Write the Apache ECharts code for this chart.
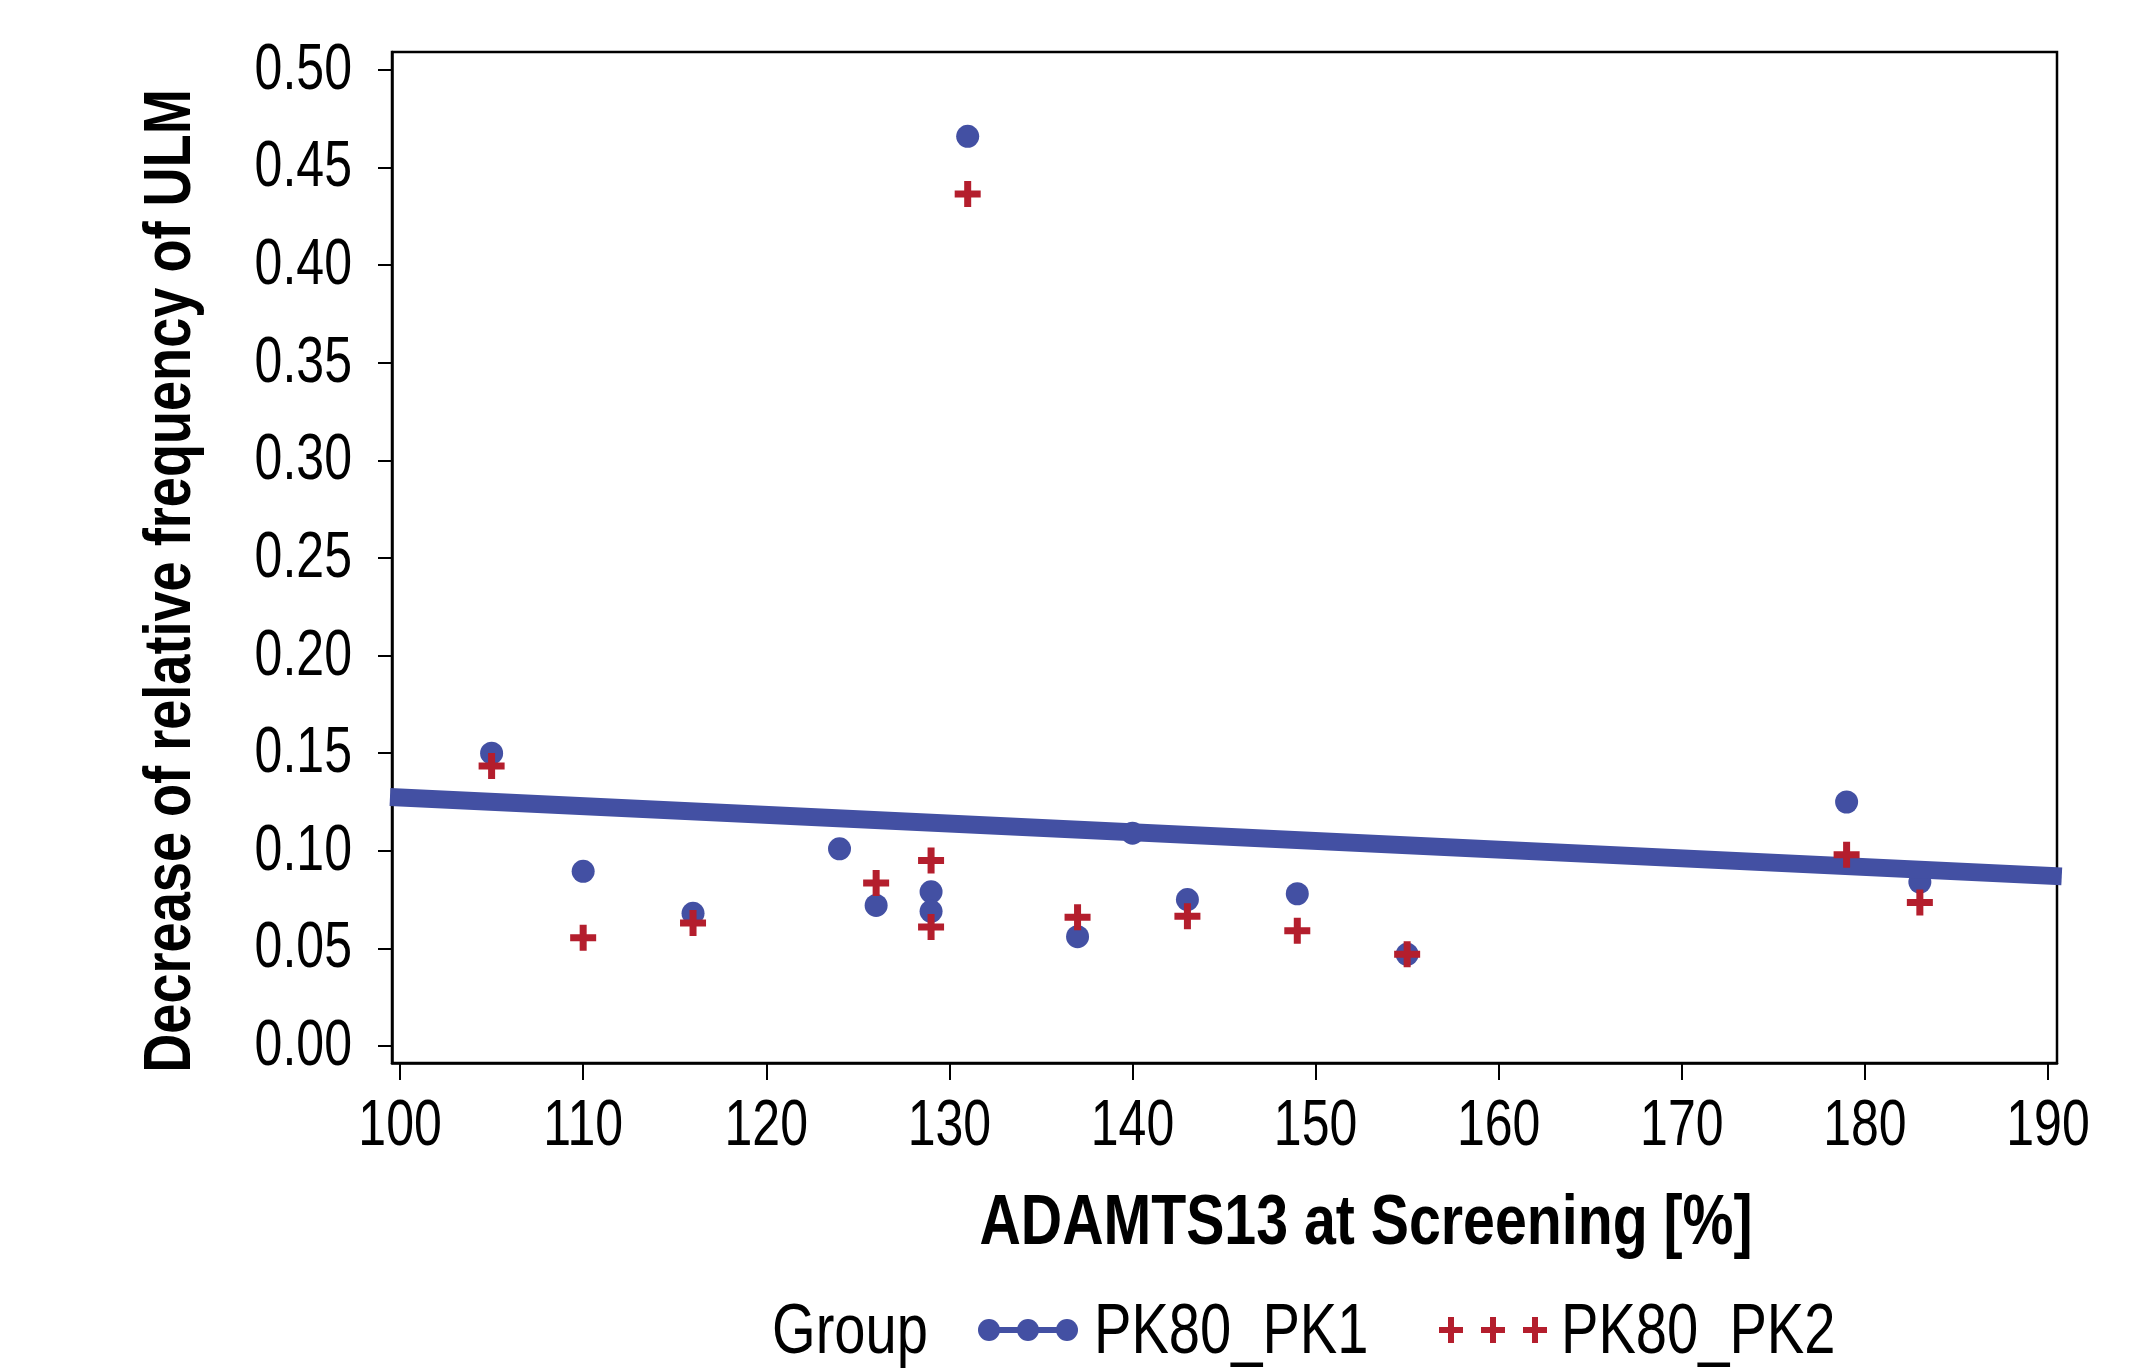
<!DOCTYPE html>
<html>
<head>
<meta charset="utf-8">
<script src="https://cdn.jsdelivr.net/npm/echarts@6/dist/echarts.min.js"></script>
<style>
  html, body { margin: 0; padding: 0; background: #fff; }
  #chart { width: 2155px; height: 1371px; }
</style>
</head>
<body>
<div id="chart"></div>
<script>
// 散点数据：ADAMTS13 at Screening [%] vs Decrease of relative frequency of ULM
const pk1X = [105, 110, 116, 124, 126, 129, 129, 131, 137, 140, 143, 149, 155, 179, 183];
const pk1Y = [0.150, 0.0895, 0.068, 0.101, 0.072, 0.079, 0.069, 0.466, 0.056, 0.109, 0.075, 0.078, 0.047, 0.125, 0.084];
const pk2X = [105, 110, 116, 126, 129, 129, 131, 137, 143, 149, 155, 179, 183];
const pk2Y = [0.1435, 0.0555, 0.063, 0.0835, 0.095, 0.061, 0.4365, 0.066, 0.0665, 0.059, 0.047, 0.098, 0.0735];
// 回归线两端
const fitX = [99.45, 190.75];
const fitY = [0.1276, 0.0869];
const xTicks = [100, 110, 120, 130, 140, 150, 160, 170, 180, 190];
const yTicks = [0, 0.05, 0.1, 0.15, 0.2, 0.25, 0.3, 0.35, 0.4, 0.45, 0.5];
const seriesNames = ["PK80_PK1", "PK80_PK2"];

const blue = "#4350a3";
const red = "#b41e2d";
// 没有 Arial Narrow，用 Liberation Sans 横向压缩代替
const font = "'Liberation Sans', Arial, sans-serif";

const zip = (xs, ys) => xs.map((x, i) => [x, ys[i]]);

// 十字形标记
const crossPath = "path://M9.5,0 h7 v9.5 h9.5 v7 h-9.5 v9.5 h-7 v-9.5 h-9.5 v-7 h9.5 Z";

const chart = echarts.init(document.getElementById("chart"));
const option = {
  backgroundColor: "#fff",
  animation: false,
  grid: {
    left: 392,
    right: 98,
    top: 52,
    bottom: 308,
    show: true,
    borderColor: "#000",
    borderWidth: 2.5,
  },
  xAxis: {
    type: "value",
    min: 99.56,
    max: 190.49,
    splitLine: { show: false },
    axisLine: { show: true, onZero: false, lineStyle: { color: "#000", width: 2.5 } },
    axisTick: {
      show: true,
      inside: false,
      length: 17,
      customValues: xTicks,
      lineStyle: { color: "#000", width: 2 },
    },
    axisLabel: { show: false },
  },
  yAxis: {
    type: "value",
    min: -0.0087,
    max: 0.5092,
    splitLine: { show: false },
    axisLine: { show: true, onZero: false, lineStyle: { color: "#000", width: 2.5 } },
    axisTick: {
      show: true,
      inside: false,
      length: 14,
      customValues: yTicks,
      lineStyle: { color: "#000", width: 2 },
    },
    axisLabel: { show: false },
  },
  series: [
    {
      name: seriesNames[0],
      type: "line",
      data: zip(fitX, fitY),
      showSymbol: false,
      clip: false,
      lineStyle: { color: blue, width: 18, cap: "butt" },
      z: 3,
    },
    {
      name: seriesNames[0],
      type: "scatter",
      data: zip(pk1X, pk1Y),
      symbol: "circle",
      symbolSize: 23,
      itemStyle: { color: blue, opacity: 1 },
      z: 2,
    },
    {
      name: seriesNames[1],
      type: "scatter",
      data: zip(pk2X, pk2Y),
      symbol: crossPath,
      symbolSize: 26,
      itemStyle: { color: red, opacity: 1 },
      z: 4,
    },
  ],
};
chart.setOption(option);

// 文字：压缩字体效果
function txt(text, x, y, size, opts) {
  opts = opts || {};
  return {
    type: "text",
    x: x,
    y: y,
    rotation: opts.rotation || 0,
    scaleX: opts.scaleX || 0.79,
    z: 10,
    style: {
      text: text,
      fontFamily: font,
      fontWeight: opts.bold ? "bold" : "normal",
      fontSize: size,
      fill: "#000",
      textAlign: opts.align || "center",
      textVerticalAlign: "middle",
    },
  };
}

const toPx = (x, y) => chart.convertToPixel({ gridIndex: 0 }, [x, y]);
const graphics = [];

// 刻度标签（位置由坐标轴换算）
xTicks.forEach((v) => {
  const p = toPx(v, 0);
  graphics.push(txt(String(v), p[0], 1127, 65, { scaleX: 0.77 }));
});
yTicks.forEach((v) => {
  const p = toPx(100, v);
  graphics.push(txt(v.toFixed(2), 352, p[1] + 1, 65, { scaleX: 0.77, align: "right" }));
});

// 坐标轴标题
graphics.push(txt("ADAMTS13 at Screening [%]", 1366, 1225, 70, { bold: true, scaleX: 0.818 }));
graphics.push(txt("Decrease of relative frequency of ULM", 172, 581, 66, {
  bold: true, scaleX: 0.82, rotation: Math.PI / 2,
}));

// 图例
graphics.push(txt("Group", 850, 1333, 71));
graphics.push({ type: "rect", shape: { x: 989, y: 1327, width: 78, height: 6 }, style: { fill: blue } });
[989, 1028, 1067].forEach((cx) => {
  graphics.push({ type: "circle", shape: { cx: cx, cy: 1330, r: 11 }, style: { fill: blue } });
});
graphics.push(txt(seriesNames[0], 1094, 1333, 71, { align: "left" }));
[1451, 1493, 1535].forEach((cx) => {
  graphics.push({ type: "rect", shape: { x: cx - 12, y: 1327, width: 24, height: 6 }, style: { fill: red } });
  graphics.push({ type: "rect", shape: { x: cx - 3, y: 1317, width: 6, height: 26 }, style: { fill: red } });
});
graphics.push(txt(seriesNames[1], 1561, 1333, 71, { align: "left" }));

chart.setOption({ graphic: graphics });
</script>
</body>
</html>
